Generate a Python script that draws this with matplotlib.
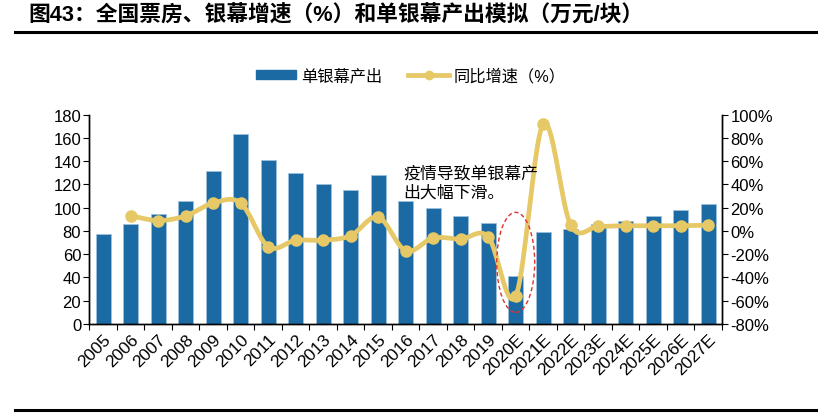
import numpy as np
import matplotlib.pyplot as plt
from matplotlib.patches import Ellipse, Patch
from matplotlib.lines import Line2D

plt.rcParams['font.family'] = ['Liberation Sans', 'Noto Sans CJK SC']
plt.rcParams['axes.unicode_minus'] = False

years = ['2005', '2006', '2007', '2008', '2009', '2010', '2011', '2012', '2013',
         '2014', '2015', '2016', '2017', '2018', '2019', '2020E', '2021E',
         '2022E', '2023E', '2024E', '2025E', '2026E', '2027E']
output = [77, 86, 95, 106, 132, 163, 141, 130, 120, 115, 128, 106, 100, 93,
          87, 41, 79, 82, 86, 89, 93, 98, 103]
# growth (%) starts in 2006
growth = [13, 9, 13, 24, 24, -13.5, -8, -8, -4, 12, -17, -6, -7, -5,
          -56, 92, 5, 4, 4.5, 4.5, 4.5, 5]

bar_color = '#1c6aa4'
line_color = '#e6c866'


def catmull_rom(x, y, n=20):
    # smooth line like the spreadsheet's "smoothed line" option
    x = np.asarray(x, float)
    y = np.asarray(y, float)
    px = np.concatenate([[2 * x[0] - x[1]], x, [2 * x[-1] - x[-2]]])
    py = np.concatenate([[2 * y[0] - y[1]], y, [2 * y[-1] - y[-2]]])
    xs, ys = [], []
    t = np.linspace(0, 1, n)
    for i in range(1, len(px) - 2):
        for arr, out in ((px, xs), (py, ys)):
            p0, p1, p2, p3 = arr[i - 1], arr[i], arr[i + 1], arr[i + 2]
            out.extend(0.5 * ((2 * p1) + (-p0 + p2) * t
                              + (2 * p0 - 5 * p1 + 4 * p2 - p3) * t ** 2
                              + (-p0 + 3 * p1 - 3 * p2 + p3) * t ** 3))
    return np.array(xs), np.array(ys)


fig = plt.figure(figsize=(8.18, 4.14), dpi=100)
ax = fig.add_axes([0.1094, 0.2150, 0.7732, 0.5055])
ax2 = ax.twinx()

x = np.arange(len(years))
ax.bar(x, output, width=0.56, color=bar_color, edgecolor='#9cc0dc',
       linewidth=0.6, zorder=2)
ax.set_xlim(-0.5, len(years) - 0.5)
ax.set_ylim(0, 180)
ax.set_yticks(range(0, 181, 20))

gx = x[1:]
sx, sy = catmull_rom(gx, growth)
ax2.plot(sx, sy, color=line_color, lw=3.4, solid_capstyle='round', zorder=3)
ax2.plot(gx, growth, 'o', color=line_color, ms=8, zorder=4)
ax2.set_ylim(-80, 100)
ax2.set_yticks(range(-80, 101, 20))
ax2.set_yticklabels([f'{v}%' for v in range(-80, 101, 20)])

ax.set_xticks(np.arange(len(years) + 1) - 0.5)
ax.set_xticklabels([])
ax.set_xticks(x, minor=True)
ax.set_xticklabels(years, minor=True, rotation=45, ha='right',
                   rotation_mode='anchor', fontsize=12.5)
ax.tick_params(axis='x', which='minor', length=0, pad=5)
ax.tick_params(axis='x', which='major', length=4, direction='out')

for a in (ax, ax2):
    a.spines['top'].set_visible(False)
    for s in ('left', 'right', 'bottom'):
        a.spines[s].set_linewidth(1.0)
        a.spines[s].set_color('black')
    a.tick_params(axis='y', labelsize=12, length=4, pad=2)

ell = Ellipse((15, 53), 1.38, 86, fill=False, ls=(0, (3, 2)),
              edgecolor='#e03030', lw=1.0, zorder=5,
              transform=ax.transData)
ax2.add_patch(ell)
ax2.text(10.92, 122, '疫情导致单银幕产\n出大幅下滑。', fontsize=12.2,
         linespacing=1.25, va='center', ha='left', zorder=6,
         transform=ax.transData)

fig.text(0.035, 0.962, '图43：全国票房、银幕增速（%）和单银幕产出模拟（万元/块）',
         fontsize=15.7, fontweight='bold', va='center', ha='left')
fig.add_artist(Line2D([0.018, 0.998], [0.92, 0.92], color='black', lw=2.2))
fig.add_artist(Line2D([0.018, 0.998], [0.007, 0.007], color='black', lw=2.2))

handles = [Patch(color=bar_color),
           Line2D([], [], color=line_color, lw=3.4, marker='o', ms=6)]
fig.legend(handles, ['单银幕产出', '同比增速（%）'], loc='center',
           bbox_to_anchor=(0.502, 0.815), ncol=2, frameon=False, fontsize=11.7,
           handlelength=2.5, handleheight=0.5, columnspacing=1.6,
           handletextpad=0.3)

fig.savefig('out.png', dpi=100)
